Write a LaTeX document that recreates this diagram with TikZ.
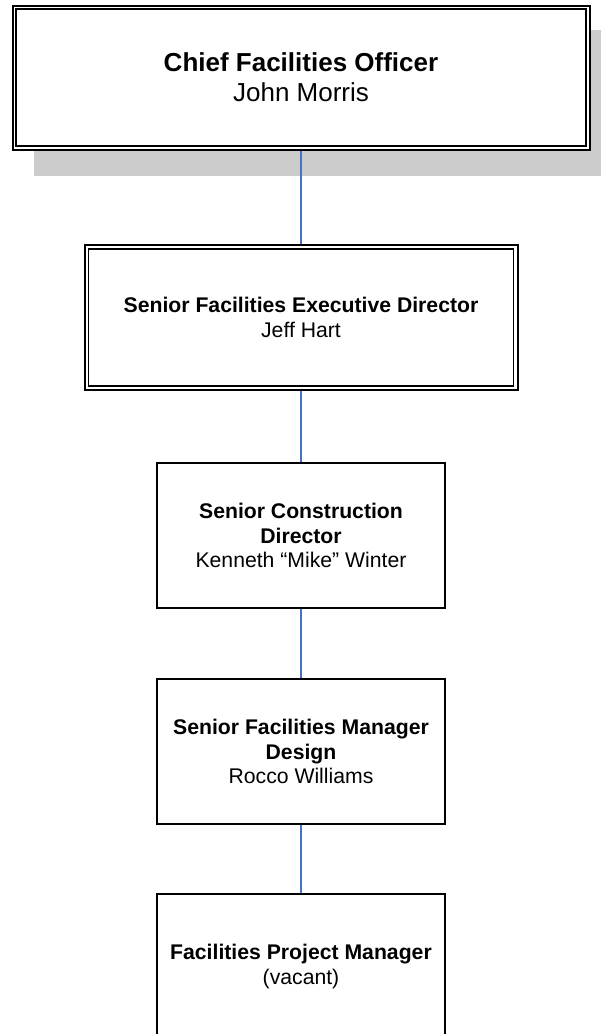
\documentclass[tikz,border=0pt]{standalone}
\usepackage{fontspec}
\setmainfont{Liberation Sans}
\usetikzlibrary{backgrounds}
\definecolor{linkblue}{RGB}{68,114,196}
\definecolor{shadowgray}{RGB}{204,204,204}
\tikzset{
  topbox/.style={draw=black, fill=white, line width=2pt, rectangle, inner sep=0pt,
    minimum width=577pt, minimum height=144pt, align=center,
    font=\fontsize{26}{30}\selectfont},
  execbox/.style={draw=black, fill=white, line width=2pt, rectangle, inner sep=0pt,
    minimum width=433pt, minimum height=145pt, align=center,
    font=\fontsize{21.2}{24.6}\selectfont},
  staffbox/.style={draw=black, fill=white, line width=1.8pt, rectangle, inner sep=0pt,
    minimum width=288pt, minimum height=145pt, align=center,
    font=\fontsize{21.2}{24.6}\selectfont},
  innerline/.style={draw=black, line width=1.1pt},
  link/.style={draw=linkblue, line width=1.4pt},
  shadowfill/.style={fill=shadowgray}
}
\begin{document}
\begin{tikzpicture}[x=1pt,y=-1pt]
\useasboundingbox (0,0) rectangle (601,1034);
\clip (0,0) rectangle (601,1034);

\node[topbox] (b1) at (301,77.5) {\textbf{Chief Facilities Officer}\\John Morris};
\node[execbox] (b2) at (301,317.5) {\textbf{Senior Facilities Executive Director}\\Jeff Hart};
\node[staffbox] (b3) at (301,535.5) {\textbf{Senior Construction}\\\textbf{Director}\\Kenneth “Mike” Winter};
\node[staffbox] (b4) at (301,751.5) {\textbf{Senior Facilities Manager}\\\textbf{Design}\\Rocco Williams};
\node[staffbox] (b5) at (301,966.5) {\textbf{Facilities Project Manager}\\(vacant)};

\begin{scope}[on background layer]
  \fill[shadowfill] ([xshift=22.5pt,yshift=-25.5pt]b1.south west) rectangle ([xshift=22.5pt,yshift=-25.5pt]b1.north east);
\end{scope}

\draw[innerline] ([xshift=4.5pt,yshift=-4.5pt]b1.north west) rectangle ([xshift=-4.5pt,yshift=4.5pt]b1.south east);
\draw[innerline] ([xshift=5pt,yshift=-5pt]b2.north west) rectangle ([xshift=-5pt,yshift=5pt]b2.south east);

\draw[link] (b1.south) -- (b2.north);
\draw[link] (b2.south) -- (b3.north);
\draw[link] (b3.south) -- (b4.north);
\draw[link] (b4.south) -- (b5.north);
\end{tikzpicture}
\end{document}
